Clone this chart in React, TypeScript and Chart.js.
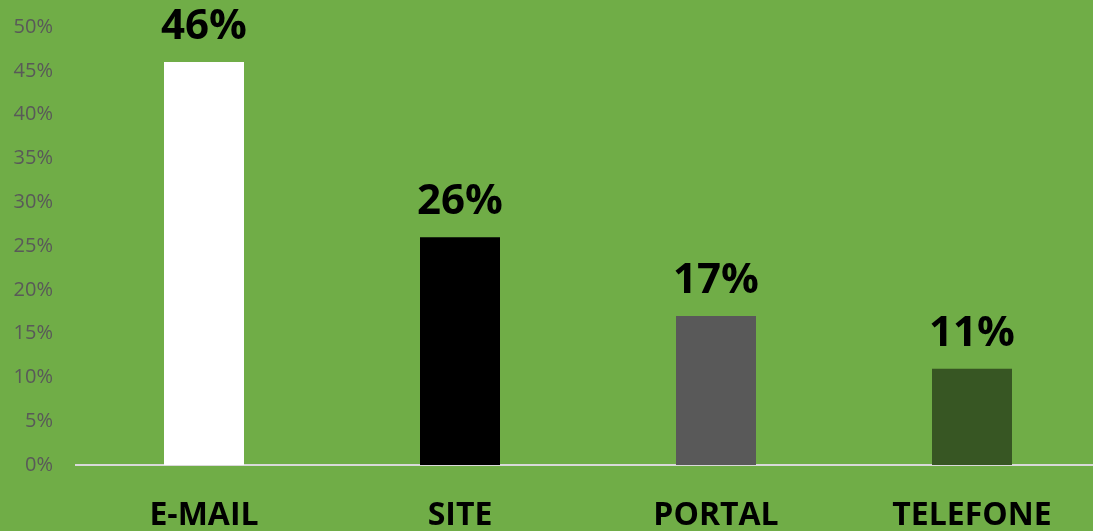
import React, { useEffect, useRef } from "react";
import { Chart, registerables } from "chart.js";

Chart.register(...registerables);

const categories = ["E-MAIL", "SITE", "PORTAL", "TELEFONE"];
const values = [0.46, 0.26, 0.17, 0.11];
const barColors = ["#FFFFFF", "#000000", "#595959", "#375623"];
const yTickStep = 0.05;
const yMax = 0.5;

const BG = "#70AD47";

const dataLabelPlugin = {
  id: "dataLabels",
  afterDatasetsDraw(chart: any) {
    const ctx = chart.ctx;
    const meta = chart.getDatasetMeta(0);
    ctx.save();
    ctx.font = "bold 42px 'Open Sans'";
    ctx.fillStyle = "#000000";
    ctx.textAlign = "center";
    ctx.textBaseline = "alphabetic";
    meta.data.forEach((el: any, i: number) => {
      const v = chart.data.datasets[0].data[i] as number;
      ctx.fillText(Math.round(v * 100) + "%", el.x, el.y - 23);
    });
    ctx.restore();
  },
};

export default function App() {
  const ref = useRef<HTMLCanvasElement | null>(null);
  useEffect(() => {
    document.body.style.margin = "0";
    document.body.style.background = BG;
    document.body.style.overflow = "hidden";
    const canvas = ref.current!;
    const chart = new Chart(canvas, {
      type: "bar",
      data: {
        labels: categories,
        datasets: [
          {
            data: values,
            backgroundColor: barColors,
            borderWidth: 0,
            barPercentage: 0.3125,
            categoryPercentage: 1,
          },
        ],
      },
      options: {
        animation: false,
        responsive: false,
        maintainAspectRatio: false,
        layout: { padding: { top: 27, right: 0, left: 0, bottom: 0 } },
        plugins: {
          legend: { display: false },
          tooltip: { enabled: false },
        },
        scales: {
          x: {
            grid: { display: false, drawTicks: false },
            border: { display: true, color: "#D9D9D9", width: 2 },
            ticks: {
              color: "#000000",
              font: { family: "'Open Sans'", size: 32, weight: "bold" },
              padding: 32,
              maxRotation: 0,
            },
            afterFit(scale: any) {
              scale.height = 66;
            },
          },
          y: {
            min: 0,
            max: yMax,
            grid: { display: false, drawTicks: true, tickLength: 23 },
            border: { display: false },
            ticks: {
              stepSize: yTickStep,
              color: "#595959",
              font: { family: "'Open Sans'", size: 20 },
              padding: 0,
              callback: (v: any) => Math.round(Number(v) * 100) + "%",
            },
            afterFit(scale: any) {
              scale.width = 76;
            },
          },
        },
      },
      plugins: [
        dataLabelPlugin,
        {
          id: "bg",
          beforeDraw(c: any) {
            const g = c.ctx;
            g.save();
            g.fillStyle = BG;
            g.fillRect(0, 0, c.width, c.height);
            g.restore();
          },
        },
      ],
    });
    return () => chart.destroy();
  }, []);
  return (
    <div style={{ width: 1093, height: 531, background: BG, overflow: "hidden" }}>
      <canvas ref={ref} width={1100} height={531} style={{ display: "block" }} />
    </div>
  );
}
